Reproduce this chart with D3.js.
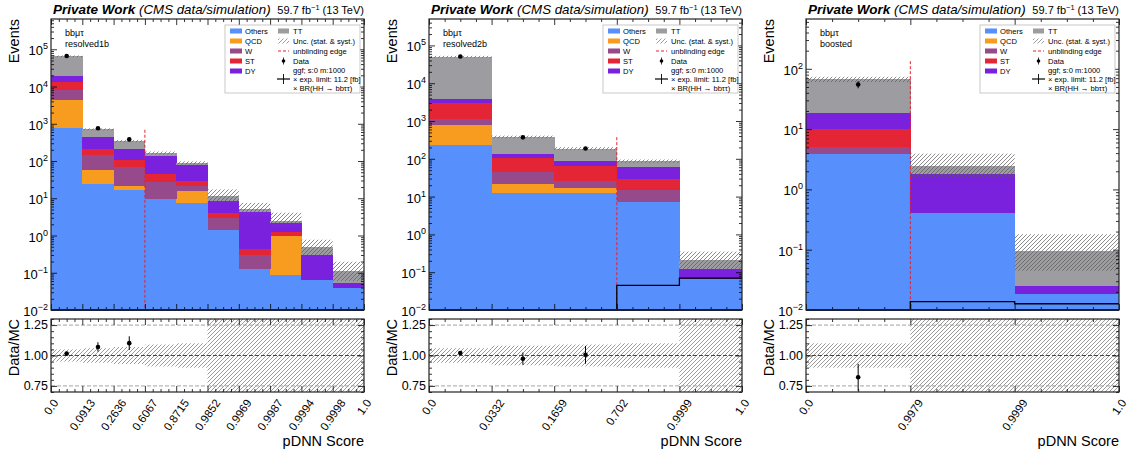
<!DOCTYPE html>
<html>
<head>
<meta charset="utf-8">
<script src="https://cdn.jsdelivr.net/npm/d3@7"></script>
<style>
  body { margin: 0; background: #fff; }
  svg text { font-family: "Liberation Sans", Arial, sans-serif; fill: #000; }
</style>
</head>
<body>
<svg id="chart" width="1133" height="457"></svg>
<script>
// Процессы и цвета (снизу вверх в стеке)
const processes = ["Others", "QCD", "W", "ST", "DY", "TT"];
const colors = ["#5790fc", "#f89c20", "#964a8b", "#e42536", "#7a21dd", "#9c9ca1"];
const categories = ["resolved1b", "resolved2b", "boosted"];

// resolved1b
const edges1b = ["0.0", "0.0913", "0.2636", "0.6067", "0.8715", "0.9852", "0.9969", "0.9987", "0.9994", "0.9998", "1.0"];
const others1b = [760, 24, 17, 9.3, 7.5, 1.4, 0.126, 0.087, 0.063, 0.038];
const qcd1b = [3500, 32, 5, 0, 8, 0, 0, 0.863, 0, 0];
const w1b = [4040, 88, 47, 18.2, 5.5, 1.5, 0.174, 0, 0, 0];
const st1b = [4900, 63, 36, 16.5, 7.7, 1.2, 0.13, 0.3, 0, 0];
const dy1b = [5500, 229, 110, 91, 48.3, 4.4, 3.87, 0.95, 0.237, 0.014];
const tt1b = [46300, 274, 130, 30, 12, 3.0, 0.7, 0.3, 0.2, 0.058];
const uncUp1b = [0.05, 0.06, 0.07, 0.09, 0.10, 0.5, 0.5, 0.64, 0.54, 0.8];
const uncDn1b = [0.05, 0.06, 0.07, 0.09, 0.10, 0.35, 0.35, 0.35, 0.4, 0.45];
const data1b = [66000, 760, 380];
const signal1b = null;

// resolved2b
const edges2b = ["0.0", "0.0332", "0.1659", "0.702", "0.9999", "1.0"];
const others2b = [230, 12.3, 12.3, 7.1, 0.068];
const qcd2b = [570, 8.7, 4.7, 0, 0];
const w2b = [350, 22.5, 9, 7.9, 0];
const st2b = [1800, 62.5, 40, 14.3, 0];
const dy2b = [950, 32, 21, 32.7, 0.052];
const tt2b = [46100, 242, 100, 25, 0.09];
const uncUp2b = [0.06, 0.08, 0.09, 0.10, 0.67];
const uncDn2b = [0.06, 0.08, 0.09, 0.10, 0.43];
const data2b = [51000, 370, 188];
const signal2b = [0.002, 0.002, 0.003, 0.045, 0.07];

// boosted
const edgesBst = ["0.0", "0.9979", "0.9999", "1.0"];
const othersBst = [3.9, 0.41, 0.0186];
const qcdBst = [0, 0, 0];
const wBst = [1.2, 0, 0];
const stBst = [5.1, 0, 0];
const dyBst = [8.0, 1.37, 0.0064];
const ttBst = [48.8, 0.67, 0.07];
const uncUpBst = [0.10, 0.6, 0.9];
const uncDnBst = [0.10, 0.35, 0.53];
const dataBst = [55];
const signalBst = [0.003, 0.0138, 0.0127];

const unblindEdges = [3, 3, 1];

const panels = [
  { cat: categories[0], edges: edges1b, stacks: [others1b, qcd1b, w1b, st1b, dy1b, tt1b], up: uncUp1b, dn: uncDn1b, data: data1b, signal: signal1b, unblind: unblindEdges[0] },
  { cat: categories[1], edges: edges2b, stacks: [others2b, qcd2b, w2b, st2b, dy2b, tt2b], up: uncUp2b, dn: uncDn2b, data: data2b, signal: signal2b, unblind: unblindEdges[1] },
  { cat: categories[2], edges: edgesBst, stacks: [othersBst, qcdBst, wBst, stBst, dyBst, ttBst], up: uncUpBst, dn: uncDnBst, data: dataBst, signal: signalBst, unblind: unblindEdges[2] }
];

// Геометрия
const panelLeft = [51, 429, 806];
const pw = 313;
const mainTop = 19, mainH = 291;
const ratioTop = 319, ratioH = 73;

const svg = d3.select("#chart");
const defs = svg.append("defs");

function addHatch(id, color, width) {
  const p = defs.append("pattern")
    .attr("id", id)
    .attr("patternUnits", "userSpaceOnUse")
    .attr("width", 4).attr("height", 4);
  p.append("path")
    .attr("d", "M0,4 L4,0 M-1,1 L1,-1 M3,5 L5,3")
    .attr("stroke", color)
    .attr("stroke-width", width);
}
addHatch("hatchMain", "#5a5a5a", 0.7);
addHatch("hatchRatio", "#7a7a7a", 0.75);

function drawPanel(cfg, idx) {
  const left = panelLeft[idx];
  const n = cfg.edges.length - 1;
  const rows = d3.range(n).map(i => {
    const r = {};
    processes.forEach((p, k) => r[p] = cfg.stacks[k][i]);
    return r;
  });
  const stacked = d3.stack().keys(processes)(rows);
  const totals = rows.map(r => d3.sum(processes, p => r[p]));

  const x = d3.scaleLinear().domain([0, n]).range([0, pw]);
  const y = d3.scaleLog().domain([0.01, 10 * d3.max(totals)]).range([mainH, 0]).clamp(true);
  const yr = d3.scaleLinear().domain([0.7, 1.3]).range([ratioH, 0]).clamp(true);
  const yv = v => y(Math.max(v, 1e-4));

  // Основной график
  const g = svg.append("g").attr("transform", `translate(${left},${mainTop})`);
  const clipId = "clip" + idx;
  defs.append("clipPath").attr("id", clipId)
    .append("rect").attr("width", pw).attr("height", mainH);
  const plot = g.append("g").attr("clip-path", `url(#${clipId})`);

  stacked.forEach((layer, k) => {
    plot.selectAll(null)
      .data(layer.map((d, i) => ({ d, i })).filter(o => o.d[1] > o.d[0]))
      .join("rect")
      .attr("x", o => x(o.i))
      .attr("width", o => x(o.i + 1) - x(o.i) + 0.5)
      .attr("y", o => yv(o.d[1]))
      .attr("height", o => yv(o.d[0]) - yv(o.d[1]))
      .attr("fill", colors[k])
      .attr("shape-rendering", "crispEdges");
  });

  // Полоса неопределённости
  plot.selectAll(null)
    .data(totals.map((t, i) => ({ t, i })))
    .join("rect")
    .attr("x", o => x(o.i))
    .attr("width", o => x(o.i + 1) - x(o.i))
    .attr("y", o => yv(o.t * (1 + cfg.up[o.i])))
    .attr("height", o => yv(o.t * (1 - cfg.dn[o.i])) - yv(o.t * (1 + cfg.up[o.i])))
    .attr("fill", "url(#hatchMain)");

  // Граница разблайнда
  const ue = cfg.unblind;
  const edgeTop = 2 * Math.max(totals[ue - 1], totals[ue]);
  plot.append("line")
    .attr("x1", x(ue)).attr("x2", x(ue))
    .attr("y1", yv(edgeTop)).attr("y2", mainH)
    .attr("stroke", "#e8202a").attr("stroke-width", 1)
    .attr("stroke-dasharray", "3,2");

  // Сигнал
  if (cfg.signal) {
    const pts = cfg.signal.map((v, i) => [i, v]);
    pts.push([n, cfg.signal[n - 1]]);
    plot.append("path")
      .attr("d", d3.line().x(d => x(d[0])).y(d => yv(d[1])).curve(d3.curveStepAfter)(pts))
      .attr("fill", "none").attr("stroke", "#000").attr("stroke-width", 1.3);
  }

  // Данные
  cfg.data.forEach((v, i) => {
    const e = Math.sqrt(v);
    plot.append("line")
      .attr("x1", x(i + 0.5)).attr("x2", x(i + 0.5))
      .attr("y1", yv(v + e)).attr("y2", yv(v - e))
      .attr("stroke", "#000").attr("stroke-width", 1);
    plot.append("circle")
      .attr("cx", x(i + 0.5)).attr("cy", yv(v)).attr("r", 2.3).attr("fill", "#000");
  });

  // Оси основного графика
  const [lo, hi] = y.domain();
  const decades = d3.range(Math.ceil(Math.log10(lo)), Math.floor(Math.log10(hi)) + 1).map(e => Math.pow(10, e));
  const minorY = [];
  decades.forEach(d => { for (let m = 2; m <= 9; m++) if (d * m < hi) minorY.push(d * m); });
  const majorX = d3.range(0, n + 1);
  const minorX = d3.range(0, n * 4 + 1).filter(k => k % 4 !== 0).map(k => k / 4);

  function ticks(sel, axis) {
    sel.call(axis);
    sel.select(".domain").remove();
    sel.selectAll("line").attr("stroke", "#000").attr("stroke-width", 0.8);
    sel.selectAll("text").remove();
  }
  ticks(g.append("g"), d3.axisLeft(y).tickValues(decades).tickSize(-6));
  ticks(g.append("g"), d3.axisLeft(y).tickValues(minorY).tickSize(-3));
  ticks(g.append("g").attr("transform", `translate(${pw},0)`), d3.axisRight(y).tickValues(decades).tickSize(-6));
  ticks(g.append("g").attr("transform", `translate(${pw},0)`), d3.axisRight(y).tickValues(minorY).tickSize(-3));
  ticks(g.append("g"), d3.axisTop(x).tickValues(majorX).tickSize(-6));
  ticks(g.append("g"), d3.axisTop(x).tickValues(minorX).tickSize(-3));
  ticks(g.append("g").attr("transform", `translate(0,${mainH})`), d3.axisBottom(x).tickValues(majorX).tickSize(-6));
  ticks(g.append("g").attr("transform", `translate(0,${mainH})`), d3.axisBottom(x).tickValues(minorX).tickSize(-3));

  g.append("rect").attr("width", pw).attr("height", mainH)
    .attr("fill", "none").attr("stroke", "#222").attr("stroke-width", 1.2);
  g.append("line").attr("x1", 0).attr("x2", pw).attr("y1", mainH).attr("y2", mainH)
    .attr("stroke", "#1a1f33").attr("stroke-width", 2);

  // Подписи степеней десяти
  decades.forEach(d => {
    const t = g.append("text")
      .attr("x", -3).attr("y", y(d) + 6)
      .attr("text-anchor", "end").style("font-size", "13px");
    t.append("tspan").text("10");
    t.append("tspan").attr("dy", -6).style("font-size", "9px").text(Math.round(Math.log10(d)).toString().replace("-", "\u2212"));
  });

  g.append("text")
    .attr("transform", `translate(-32,0) rotate(-90)`)
    .attr("text-anchor", "end").style("font-size", "14.5px").text("Events");

  // Заголовок
  const title = svg.append("text").attr("x", left + 2).attr("y", mainTop - 5);
  title.append("tspan").style("font-weight", "bold").style("font-style", "italic").style("font-size", "13.5px").text("Private Work ");
  title.append("tspan").style("font-style", "italic").style("font-size", "13.3px").text("(CMS data/simulation)");
  const lumi = svg.append("text").attr("x", left + pw).attr("y", mainTop - 5)
    .attr("text-anchor", "end").style("font-size", "11px");
  lumi.append("tspan").text("59.7 fb");
  lumi.append("tspan").attr("dy", -4).style("font-size", "7.5px").text("\u22121");
  lumi.append("tspan").attr("dy", 4).text(" (13 TeV)");

  // Категория
  g.append("text").attr("x", 14).attr("y", 17).style("font-size", "9px").text("bb\u03bc\u03c4");
  g.append("text").attr("x", 14).attr("y", 28).style("font-size", "9px").text(cfg.cat);

  // Легенда
  const lg = g.append("g").attr("transform", "translate(174,6)");
  lg.append("rect").attr("width", 135).attr("height", 68)
    .attr("fill", "#fff").attr("stroke", "#bbb").attr("stroke-width", 0.8);
  const fs = "7.6px";
  processes.slice(0, 5).forEach((p, k) => {
    lg.append("rect").attr("x", 5).attr("y", 6 + k * 10 - 2.5).attr("width", 12).attr("height", 5).attr("fill", colors[k]);
    lg.append("text").attr("x", 20).attr("y", 6 + k * 10).attr("dy", "0.35em").style("font-size", fs).text(p);
  });
  const c2 = 53, t2 = 68;
  lg.append("rect").attr("x", c2).attr("y", 3.5).attr("width", 11).attr("height", 5).attr("fill", colors[5]);
  lg.append("text").attr("x", t2).attr("y", 6).attr("dy", "0.35em").style("font-size", fs).text(processes[5]);
  lg.append("rect").attr("x", c2).attr("y", 13.5).attr("width", 11).attr("height", 5).attr("fill", "url(#hatchRatio)");
  lg.append("text").attr("x", t2).attr("y", 16).attr("dy", "0.35em").style("font-size", fs).text("Unc. (stat. & syst.)");
  lg.append("line").attr("x1", c2).attr("x2", c2 + 11).attr("y1", 26).attr("y2", 26)
    .attr("stroke", "#e8202a").attr("stroke-width", 1).attr("stroke-dasharray", "3,2");
  lg.append("text").attr("x", t2).attr("y", 26).attr("dy", "0.35em").style("font-size", fs).text("unblinding edge");
  lg.append("line").attr("x1", c2 + 5.5).attr("x2", c2 + 5.5).attr("y1", 32.5).attr("y2", 39.5).attr("stroke", "#000").attr("stroke-width", 0.8);
  lg.append("circle").attr("cx", c2 + 5.5).attr("cy", 36).attr("r", 1.8).attr("fill", "#000");
  lg.append("text").attr("x", t2).attr("y", 36).attr("dy", "0.35em").style("font-size", fs).text("Data");
  lg.append("line").attr("x1", c2 - 1).attr("x2", c2 + 12).attr("y1", 54).attr("y2", 54).attr("stroke", "#000").attr("stroke-width", 1.2);
  lg.append("line").attr("x1", c2 + 5.5).attr("x2", c2 + 5.5).attr("y1", 49).attr("y2", 59).attr("stroke", "#000").attr("stroke-width", 0.9);
  ["ggf; s:0 m:1000", "\u00d7 exp. limit: 11.2 [fb]", "\u00d7 BR(HH \u2192 bb\u03c4\u03c4)"].forEach((s, k) => {
    lg.append("text").attr("x", t2).attr("y", 45 + k * 9).attr("dy", "0.35em").style("font-size", fs).text(s);
  });

  // Отношение Data/MC
  const gr = svg.append("g").attr("transform", `translate(${left},${ratioTop})`);
  const clipR = "clipR" + idx;
  defs.append("clipPath").attr("id", clipR)
    .append("rect").attr("width", pw).attr("height", ratioH);
  const rp = gr.append("g").attr("clip-path", `url(#${clipR})`);

  rp.selectAll(null)
    .data(d3.range(n))
    .join("rect")
    .attr("x", i => x(i))
    .attr("width", i => x(i + 1) - x(i))
    .attr("y", i => yr(1 + cfg.up[i]))
    .attr("height", i => yr(1 - cfg.dn[i]) - yr(1 + cfg.up[i]))
    .attr("fill", "url(#hatchRatio)");

  [[0.75, "#999"], [1.25, "#999"], [1.0, "#333"]].forEach(([v, c]) => {
    rp.append("line").attr("x1", 0).attr("x2", pw).attr("y1", yr(v)).attr("y2", yr(v))
      .attr("stroke", c).attr("stroke-width", 0.9).attr("stroke-dasharray", "4,2");
  });

  cfg.data.forEach((v, i) => {
    const r = v / totals[i];
    const e = Math.sqrt(v) / totals[i];
    rp.append("line")
      .attr("x1", x(i + 0.5)).attr("x2", x(i + 0.5))
      .attr("y1", yr(r + e)).attr("y2", yr(r - e))
      .attr("stroke", "#000").attr("stroke-width", 1);
    rp.append("circle")
      .attr("cx", x(i + 0.5)).attr("cy", yr(r)).attr("r", 2.3).attr("fill", "#000");
  });

  const rMajor = [0.75, 1.0, 1.25];
  const rMinor = d3.range(14, 27).map(k => k * 0.05).filter(v => !rMajor.some(m => Math.abs(m - v) < 1e-6));
  ticks(gr.append("g"), d3.axisLeft(yr).tickValues(rMajor).tickSize(-6));
  ticks(gr.append("g"), d3.axisLeft(yr).tickValues(rMinor).tickSize(-3));
  ticks(gr.append("g").attr("transform", `translate(${pw},0)`), d3.axisRight(yr).tickValues(rMajor).tickSize(-6));
  ticks(gr.append("g").attr("transform", `translate(${pw},0)`), d3.axisRight(yr).tickValues(rMinor).tickSize(-3));
  ticks(gr.append("g"), d3.axisTop(x).tickValues(majorX).tickSize(-6));
  ticks(gr.append("g"), d3.axisTop(x).tickValues(minorX).tickSize(-3));
  ticks(gr.append("g").attr("transform", `translate(0,${ratioH})`), d3.axisBottom(x).tickValues(majorX).tickSize(-6));
  ticks(gr.append("g").attr("transform", `translate(0,${ratioH})`), d3.axisBottom(x).tickValues(minorX).tickSize(-3));

  gr.append("rect").attr("width", pw).attr("height", ratioH)
    .attr("fill", "none").attr("stroke", "#222").attr("stroke-width", 1.2);

  rMajor.forEach(v => {
    gr.append("text").attr("x", -3).attr("y", yr(v)).attr("dy", "0.35em")
      .attr("text-anchor", "end").style("font-size", "12.5px").text(v.toFixed(2));
  });
  gr.append("text")
    .attr("transform", `translate(-32,0) rotate(-90)`)
    .attr("text-anchor", "end").style("font-size", "14.5px").text("Data/MC");

  // Повёрнутые подписи бинов
  const ang = 55, fsx = 11.5;
  majorX.forEach(i => {
    const t = gr.append("text")
      .attr("text-anchor", "middle").attr("dy", "0.35em")
      .style("font-size", fsx + "px").text(cfg.edges[i]);
    const L = t.node().getComputedTextLength();
    const ext = L * Math.sin(ang * Math.PI / 180) + fsx * 0.72 * Math.cos(ang * Math.PI / 180);
    t.attr("transform", `translate(${x(i)},${ratioH + 6 + ext / 2}) rotate(${-ang})`);
  });

  gr.append("text").attr("x", pw).attr("y", ratioH + 54)
    .attr("text-anchor", "end").style("font-size", "14.5px").text("pDNN Score");
}

panels.forEach(drawPanel);
</script>
</body>
</html>
